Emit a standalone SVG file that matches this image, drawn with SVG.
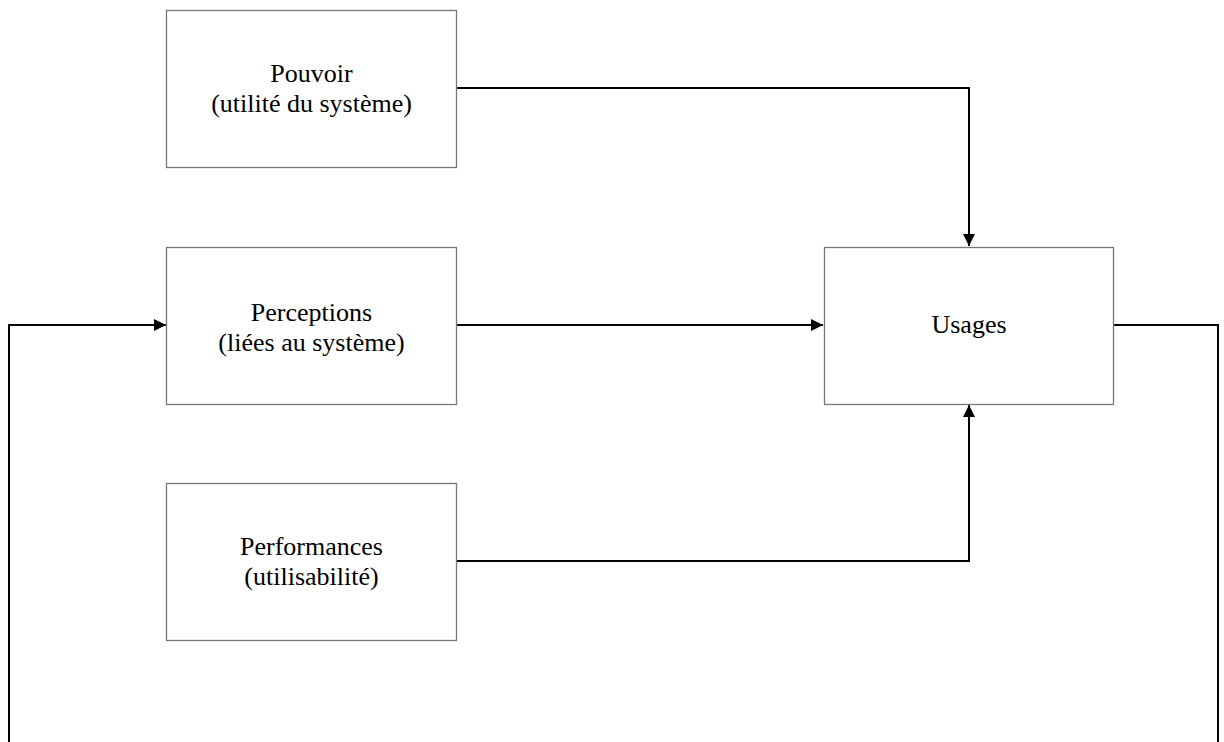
<svg xmlns="http://www.w3.org/2000/svg" width="1224" height="742" viewBox="0 0 1224 742">
<style>
.box{fill:#fff;stroke:#777;stroke-width:1.3}
.lbl{font-family:"Liberation Serif","Times New Roman",serif;font-size:26px;fill:#000;text-anchor:middle}
.conn{fill:none;stroke:#000;stroke-width:2}
</style>
<defs>
<marker id="arr" viewBox="0 0 12 12" refX="12" refY="6" markerWidth="12" markerHeight="12" markerUnits="userSpaceOnUse" orient="auto">
<path d="M0,0 L12,6 L0,12 Z" fill="#000"/>
</marker>
</defs>
<rect width="1224" height="742" fill="#fff"/>
<g id="connectors">
<path class="conn" d="M457,88 H969 V246" marker-end="url(#arr)"/>
<path class="conn" d="M457,325 H823" marker-end="url(#arr)"/>
<path class="conn" d="M457,561 H969 V405" marker-end="url(#arr)"/>
<path class="conn" d="M1113,325 H1218 V745"/>
<path class="conn" d="M9,745 V325 H166" marker-end="url(#arr)"/>
</g>
<g id="pouvoir">
<rect class="box" x="166.5" y="10.5" width="290" height="157"/>
<text class="lbl" x="311.5" y="82">Pouvoir</text>
<text class="lbl" x="311.5" y="112">(utilité du système)</text>
</g>
<g id="perceptions">
<rect class="box" x="166.5" y="247.5" width="290" height="157"/>
<text class="lbl" x="311.5" y="321">Perceptions</text>
<text class="lbl" x="311.5" y="351">(liées au système)</text>
</g>
<g id="performances">
<rect class="box" x="166.5" y="483.5" width="290" height="157"/>
<text class="lbl" x="311.5" y="555">Performances</text>
<text class="lbl" x="311.5" y="585">(utilisabilité)</text>
</g>
<g id="usages">
<rect class="box" x="824.5" y="247.5" width="289" height="157"/>
<text class="lbl" x="969" y="333">Usages</text>
</g>
</svg>
